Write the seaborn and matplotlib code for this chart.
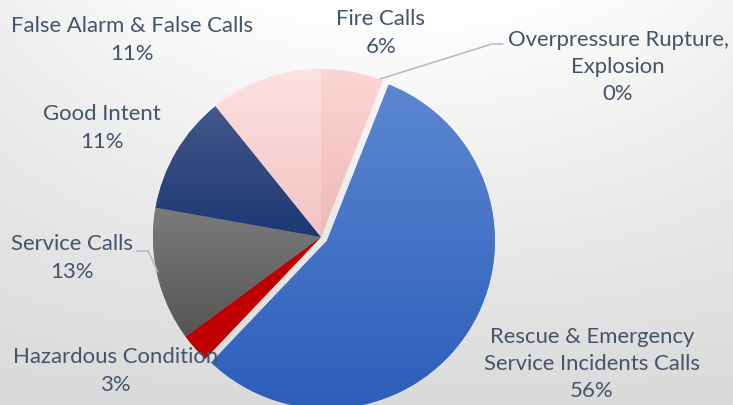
import numpy as np
import matplotlib
matplotlib.use("Agg")
import matplotlib.pyplot as plt
import seaborn as sns
from matplotlib.colors import LinearSegmentedColormap

categories = ["Fire Calls", "Overpressure Rupture,\nExplosion", "Rescue & Emergency\nService Incidents Calls",
              "Hazardous Condition", "Service Calls", "Good Intent", "False Alarm & False Calls"]
shares = [5.8, 0.2, 56.1, 2.8, 12.9, 11.4, 10.8]
explode_slice = [0, 0, 1, 0, 0, 0, 0]
# top / bottom colours of each slice gradient
top_colors = ["#fcd6d6", "#fcd6d6", "#5d87d0", "#c00000", "#7c7c7c", "#44588a", "#fde1e1"]
bottom_colors = ["#efb8b8", "#efb8b8", "#2b5dbb", "#c00000", "#545454", "#1b3872", "#f3c3c3"]

# label block centres in pixels (x, y from top)
label_pos = [(381, 33), (618, 67), (592, 364), (116, 371), (72, 258), (102, 128), (132, 40)]

W, H = 733, 406
cx, cy, r = 321, 238, 168
gap = 7  # pixels the rescue slice is pulled out

sns.set_theme(style="white")
plt.rcParams["font.family"] = ["Lato", "DejaVu Sans"]

fig = plt.figure(figsize=(7.33, 4.06), dpi=100)
ax = fig.add_axes([0, 0, 1, 1])

# background gradient (white at top centre, grey at bottom)
yy, xx = np.mgrid[0:H, 0:W]
t = yy / H
s = np.clip(((xx - 400) / 400) ** 2, 0, 1)
bg = 255 - 38 * t - 16 * s * (1 - t)
ax.imshow(bg, cmap="gray", vmin=0, vmax=255, extent=[0, W, 0, H], origin="upper",
          aspect="auto", zorder=0)

wedges, _ = ax.pie(shares, explode=[e * gap for e in explode_slice], startangle=90,
                   counterclock=False, center=(cx, H - cy), radius=r, frame=True,
                   wedgeprops=dict(linewidth=0, edgecolor="none"))

ax.set_xlim(0, W)
ax.set_ylim(0, H)
ax.set_aspect("auto")

# vertical gradient inside each slice, spread over the slice's own height
grad = np.linspace(0, 1, 256).reshape(-1, 1)
for w, c0, c1 in zip(wedges, top_colors, bottom_colors):
    w.set_facecolor(c0)
    w.set_zorder(2)
    bb = w.get_window_extent().transformed(ax.transData.inverted())
    cmap = LinearSegmentedColormap.from_list("g", [c0, c1])
    im = ax.imshow(grad, cmap=cmap, extent=[bb.x0 - 2, bb.x1 + 2, bb.y0 - 2, bb.y1 + 2],
                   origin="upper", aspect="auto", zorder=3)
    im.set_clip_path(w)

txt_color = "#44546a"
for name, v, (lx, ly) in zip(categories, shares, label_pos):
    ax.text(lx, H - ly, f"{name}\n{v:.0f}%", ha="center", va="center", multialignment="center",
            fontsize=15.9, color=txt_color, linespacing=1.45, zorder=5)

# leader lines
lc = "#adb9ca"
ax.plot([380, 492, 503], [H - 80, H - 45, H - 45], color=lc, lw=1.1, zorder=4)
ax.plot([137, 148, 158], [H - 252, H - 252, H - 273], color=lc, lw=1.1, zorder=4)

ax.set_xlim(0, W)
ax.set_ylim(0, H)
ax.axis("off")

fig.savefig("out.png", dpi=100)
